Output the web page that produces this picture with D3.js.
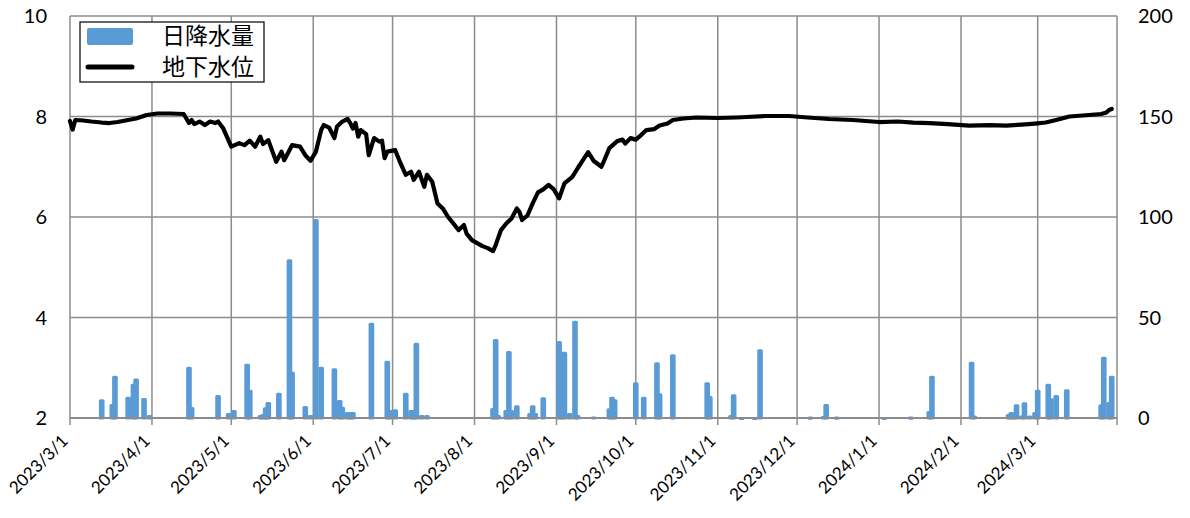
<!DOCTYPE html>
<html><head><meta charset="utf-8">
<script src="https://cdn.jsdelivr.net/npm/d3@7"></script>
<style>
html,body{margin:0;padding:0;background:#fff;}
svg text{font-family:Lato,"Liberation Sans","Noto Sans CJK JP",sans-serif;}
</style>
</head><body>
<svg id="c" width="1190" height="518"></svg>
<script>
// ---------- data ----------
const xTickLabels = ["2023/3/1","2023/4/1","2023/5/1","2023/6/1","2023/7/1","2023/8/1","2023/9/1","2023/10/1","2023/11/1","2023/12/1","2024/1/1","2024/2/1","2024/3/1"];
const leftTicks = [2,4,6,8,10];
const rightTicks = [0,50,100,150,200];
const seriesNames = ["日降水量","地下水位"];

const rainDates = ["2023-03-13","2023-03-17","2023-03-18","2023-03-23","2023-03-25","2023-03-26","2023-03-29","2023-03-31",
"2023-04-15","2023-04-16","2023-04-26","2023-04-30",
"2023-05-02","2023-05-07","2023-05-08","2023-05-12","2023-05-13","2023-05-14","2023-05-15","2023-05-19","2023-05-23","2023-05-24","2023-05-29","2023-05-31",
"2023-06-02","2023-06-04","2023-06-09","2023-06-11","2023-06-12","2023-06-14","2023-06-15","2023-06-16","2023-06-23","2023-06-29","2023-06-30",
"2023-07-02","2023-07-06","2023-07-08","2023-07-09","2023-07-10","2023-07-12","2023-07-14",
"2023-08-08","2023-08-09","2023-08-10","2023-08-13","2023-08-14","2023-08-15","2023-08-17","2023-08-22","2023-08-23","2023-08-24","2023-08-27",
"2023-09-02","2023-09-03","2023-09-04","2023-09-06","2023-09-08","2023-09-09","2023-09-15","2023-09-21","2023-09-22","2023-09-23",
"2023-10-01","2023-10-04","2023-10-09","2023-10-10","2023-10-15","2023-10-28","2023-10-29",
"2023-11-06","2023-11-07","2023-11-10","2023-11-15","2023-11-17",
"2023-12-06","2023-12-11","2023-12-12","2023-12-16",
"2024-01-03","2024-01-13","2024-01-20","2024-01-21",
"2024-02-05","2024-02-06","2024-02-19","2024-02-20","2024-02-21","2024-02-22","2024-02-24","2024-02-25","2024-02-27","2024-02-29",
"2024-03-01","2024-03-05","2024-03-06","2024-03-08","2024-03-12","2024-03-25","2024-03-26","2024-03-28","2024-03-29"];
const rainValues = [9.3,7,21,10.6,17,19.7,10,1.5,
25.5,5.5,11.4,2.5,
4,27,14,1.5,2,5.3,8,12.6,79,23,6,1.5,
99,25.5,24.7,9,5.6,3,3,3,47.4,28.5,4,
4.3,12.6,4,4,37.5,1.5,1.5,
5,39.3,1.5,4,33.3,4,6.3,2.5,6.3,2.5,10.3,
38.3,33,33,2.5,48.4,1.5,0.8,4.8,10.6,9.3,
17.8,10.6,27.7,12.3,31.7,17.8,11,
1.5,11.8,0.5,0.5,34.2,
0.7,1,7,0.7,
0.5,0.7,3.5,21,
28,1.2,2,3,2,6.8,1.2,7.8,1.2,3,
14,17,9.8,11.4,14.3,6.8,30.5,8,21];

const levelDates = ["2023-03-01","2023-03-02","2023-03-03","2023-03-06","2023-03-09","2023-03-13","2023-03-16","2023-03-19","2023-03-22","2023-03-26","2023-03-30","2023-04-03","2023-04-08","2023-04-13",
"2023-04-15","2023-04-16","2023-04-17","2023-04-19","2023-04-21","2023-04-23","2023-04-25","2023-04-26","2023-04-28","2023-05-01","2023-05-04","2023-05-06","2023-05-08","2023-05-10","2023-05-12","2023-05-13","2023-05-15","2023-05-18","2023-05-20","2023-05-21","2023-05-23","2023-05-24","2023-05-27","2023-05-29","2023-05-31",
"2023-06-02","2023-06-04","2023-06-05","2023-06-07","2023-06-09","2023-06-10","2023-06-12","2023-06-14","2023-06-15","2023-06-16","2023-06-17","2023-06-18","2023-06-19","2023-06-21","2023-06-22","2023-06-24","2023-06-26","2023-06-27","2023-06-28","2023-06-29",
"2023-07-02","2023-07-04","2023-07-06","2023-07-08","2023-07-09","2023-07-11","2023-07-13","2023-07-14","2023-07-16","2023-07-18","2023-07-20","2023-07-22","2023-07-24","2023-07-26","2023-07-28","2023-07-29","2023-07-31",
"2023-08-02","2023-08-04","2023-08-06","2023-08-08","2023-08-09","2023-08-11","2023-08-13","2023-08-15","2023-08-17","2023-08-18","2023-08-19","2023-08-21","2023-08-23","2023-08-25","2023-08-27","2023-08-29","2023-08-31",
"2023-09-02","2023-09-04","2023-09-07","2023-09-09","2023-09-11","2023-09-13","2023-09-15","2023-09-18","2023-09-19","2023-09-21","2023-09-24","2023-09-26","2023-09-27","2023-09-29",
"2023-10-01","2023-10-03","2023-10-05","2023-10-08","2023-10-10","2023-10-13","2023-10-15","2023-10-19","2023-10-24","2023-11-01","2023-11-08","2023-11-12","2023-11-19","2023-11-28","2023-12-05","2023-12-13","2023-12-22",
"2024-01-01","2024-01-08","2024-01-14","2024-01-20","2024-01-27","2024-02-04","2024-02-12","2024-02-18","2024-02-24","2024-02-29","2024-03-04","2024-03-08","2024-03-13","2024-03-18","2024-03-25","2024-03-27","2024-03-28","2024-03-29"];
const levelValues = [7.91,7.74,7.93,7.92,7.90,7.88,7.87,7.89,7.92,7.96,8.03,8.06,8.06,8.05,
7.87,7.93,7.85,7.90,7.83,7.90,7.87,7.90,7.76,7.40,7.47,7.43,7.52,7.40,7.60,7.45,7.53,7.10,7.30,7.13,7.33,7.43,7.40,7.23,7.12,
7.30,7.73,7.83,7.78,7.57,7.80,7.90,7.95,7.87,7.76,7.87,7.60,7.73,7.65,7.23,7.57,7.50,7.52,7.17,7.30,
7.33,7.07,6.84,6.90,6.74,6.90,6.60,6.84,6.70,6.27,6.17,6.00,5.87,5.74,5.84,5.67,5.54,
5.48,5.42,5.38,5.32,5.44,5.74,5.87,5.97,6.17,6.10,5.94,6.03,6.27,6.49,6.55,6.64,6.55,
6.37,6.67,6.80,6.97,7.13,7.29,7.12,7.00,7.12,7.37,7.51,7.54,7.46,7.57,
7.54,7.63,7.73,7.75,7.82,7.86,7.93,7.96,7.98,7.97,7.98,7.99,8.01,8.01,7.98,7.95,7.93,
7.89,7.90,7.88,7.87,7.85,7.82,7.83,7.82,7.84,7.86,7.88,7.93,8.00,8.02,8.05,8.08,8.13,8.15];

// ---------- drawing ----------
const svg = d3.select("#c");
const m = {left:70, right:1117, top:16, bottom:418};
const parse = d3.timeParse("%Y-%m-%d");
const parseTick = d3.timeParse("%Y/%m/%d");

const x = d3.scaleTime().domain([parse("2023-03-01"), parse("2024-03-31")]).range([m.left, m.right]);
const yL = d3.scaleLinear().domain([2,10]).range([m.bottom, m.top]);
const yR = d3.scaleLinear().domain([0,200]).range([m.bottom, m.top]);

const gridColor = "#8c8c8c";
const tickDates = xTickLabels.map(s => parseTick(s));

// horizontal grid
svg.append("g").selectAll("line").data(leftTicks).join("line")
  .attr("x1", m.left).attr("x2", m.right)
  .attr("y1", d => yL(d)).attr("y2", d => yL(d))
  .attr("stroke", gridColor).attr("stroke-width", 1.5);
// vertical grid (months + right border)
svg.append("g").selectAll("line").data(tickDates.concat([x.domain()[1]])).join("line")
  .attr("x1", d => x(d)).attr("x2", d => x(d))
  .attr("y1", m.top).attr("y2", m.bottom + 7)
  .attr("stroke", gridColor).attr("stroke-width", 1.5);

// bars
const dayW = x(parse("2023-03-02")) - x(parse("2023-03-01"));
const rain = rainDates.map((d,i) => ({date: parse(d), v: rainValues[i]}));
svg.append("g").selectAll("rect").data(rain).join("rect")
  .attr("x", d => x(d.date) - dayW/2)
  .attr("width", dayW)
  .attr("y", d => yR(d.v) + 1.5)
  .attr("height", d => Math.max(0.1, yR(0) - yR(d.v) - 1.5))
  .attr("fill", "#5B9BD5").attr("stroke", "#5B9BD5")
  .attr("stroke-width", 3).attr("stroke-linejoin", "round");

// bottom axis line
svg.append("line").attr("x1", m.left).attr("x2", m.right)
  .attr("y1", m.bottom).attr("y2", m.bottom)
  .attr("stroke", gridColor).attr("stroke-width", 2);

// level line
const level = levelDates.map((d,i) => ({date: parse(d), v: levelValues[i]}));
svg.append("path").datum(level)
  .attr("d", d3.line().x(d => x(d.date)).y(d => yL(d.v)))
  .attr("fill", "none").attr("stroke", "#000").attr("stroke-width", 4.2)
  .attr("stroke-linejoin", "round").attr("stroke-linecap", "round");

// left axis labels
svg.append("g").selectAll("text").data(leftTicks).join("text")
  .attr("x", 47).attr("y", d => yL(d)).attr("dy", "0.35em")
  .attr("text-anchor", "end").attr("font-size", 20).attr("fill", "#000")
  .text(d => d);
// right axis labels
svg.append("g").selectAll("text").data(rightTicks).join("text")
  .attr("x", 1138).attr("y", d => yR(d)).attr("dy", "0.35em")
  .attr("text-anchor", "start").attr("font-size", 20).attr("fill", "#000")
  .text(d => d);
// x labels
svg.append("g").selectAll("text").data(xTickLabels).join("text")
  .attr("transform", (d,i) => `translate(${x(tickDates[i]) - 1},${m.bottom + 24}) rotate(-45)`)
  .attr("text-anchor", "end").attr("font-size", 17).attr("fill", "#000")
  .text(d => d);

// legend
const lg = svg.append("g");
lg.append("rect").attr("x", 80).attr("y", 22).attr("width", 184).attr("height", 60)
  .attr("fill", "#fff").attr("stroke", "#000").attr("stroke-width", 1.2);
lg.append("rect").attr("x", 87).attr("y", 28).attr("width", 46).attr("height", 17)
  .attr("rx", 2).attr("fill", "#5B9BD5");
lg.append("line").attr("x1", 88).attr("x2", 132).attr("y1", 67).attr("y2", 67)
  .attr("stroke", "#000").attr("stroke-width", 5).attr("stroke-linecap", "round");
lg.selectAll("text").data(seriesNames).join("text")
  .attr("x", 162).attr("y", (d,i) => 36 + i*31).attr("dy", "0.35em")
  .attr("font-size", 23).attr("fill", "#000")
  .style("font-family", "'Noto Sans CJK JP',sans-serif")
  .text(d => d);
</script>
</body></html>
